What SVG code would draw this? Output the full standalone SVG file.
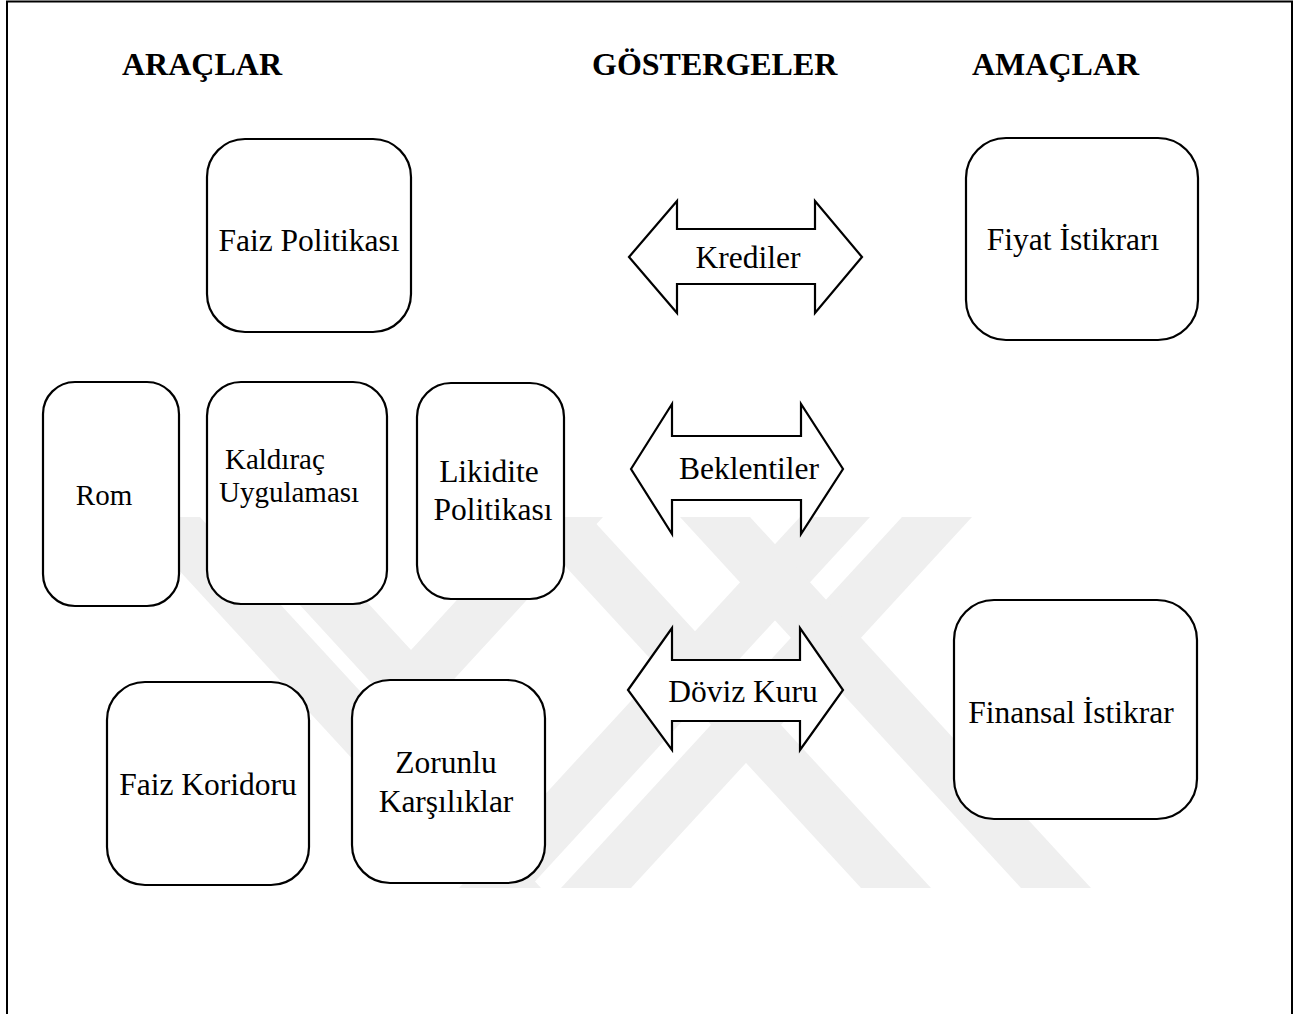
<svg xmlns="http://www.w3.org/2000/svg" width="1304" height="1014" viewBox="0 0 1304 1014">
  <style>
    .node { fill: #ffffff; stroke: #000000; stroke-width: 2.2; }
    .arrow { fill: #ffffff; stroke: #000000; stroke-width: 2.2; stroke-linejoin: miter; }
    .t { font-family: "Liberation Serif", "Times New Roman", serif; font-size: 31.5px; fill: #000000; }
    .s { font-size: 29px; }
    .c { text-anchor: middle; }
    .h { font-family: "Liberation Serif", "Times New Roman", serif; font-size: 32px; font-weight: bold; fill: #000000; }
    .wm { fill: #efefef; }
  </style>
  <rect x="0" y="0" width="1304" height="1014" fill="#ffffff"/>
  <g id="frame">
    <path d="M7,1014 V1.5 H1292 V1014" fill="none" stroke="#000000" stroke-width="2"/>
  </g>
  <g id="watermark">
    <polygon class="wm" points="219,517 289,517 411,650 533,517 603,517 411,726"/>
    <polygon class="wm" points="520,517 590,517 931,888 861,888"/>
    <polygon class="wm" points="902,517 972,517 631,888 561,888"/>
    <polygon class="wm" points="130,517 200,517 541,888 471,888"/>
    <polygon class="wm" points="800,517 870,517 529,888 459,888"/>
    <polygon class="wm" points="680,517 750,517 1091,888 1021,888"/>
  </g>
  <g id="headers">
    <text class="h" x="122" y="75">ARAÇLAR</text>
    <text class="h" x="592" y="75">GÖSTERGELER</text>
    <text class="h" x="972" y="75">AMAÇLAR</text>
  </g>
  <g id="connectors">
    <g id="arrow-krediler">
      <polygon class="arrow" points="629,257 677,201 677,229 815,229 815,201 862,257 815,313 815,284 677,284 677,313"/>
      <text class="t c" x="748" y="268">Krediler</text>
    </g>
    <g id="arrow-beklentiler">
      <polygon class="arrow" points="631,469 672,404 672,436 801,436 801,404 843,469 801,534 801,500 672,500 672,534"/>
      <text class="t c" x="749" y="479">Beklentiler</text>
    </g>
    <g id="arrow-doviz">
      <polygon class="arrow" points="628,690 672,628 672,660 800,660 800,628 843,690 800,750 800,721 672,721 672,750"/>
      <text class="t c" x="743" y="702">Döviz Kuru</text>
    </g>
  </g>
  <g id="node-faiz-politikasi">
    <rect class="node" x="207" y="139" width="204" height="193" rx="38"/>
    <text class="t c" x="309" y="251">Faiz Politikası</text>
  </g>
  <g id="node-fiyat-istikrari">
    <rect class="node" x="966" y="138" width="232" height="202" rx="40"/>
    <text class="t c" x="1073" y="250">Fiyat İstikrarı</text>
  </g>
  <g id="node-rom">
    <rect class="node" x="43" y="382" width="136" height="224" rx="32"/>
    <text class="t s c" x="104" y="505">Rom</text>
  </g>
  <g id="node-kaldirac">
    <rect class="node" x="207" y="382" width="180" height="222" rx="34"/>
    <text class="t s" x="225" y="469">Kaldıraç</text>
    <text class="t s" x="219" y="502">Uygulaması</text>
  </g>
  <g id="node-likidite">
    <rect class="node" x="417" y="383" width="147" height="216" rx="34"/>
    <text class="t c" x="489" y="482">Likidite</text>
    <text class="t c" x="493" y="520">Politikası</text>
  </g>
  <g id="node-faiz-koridoru">
    <rect class="node" x="107" y="682" width="202" height="203" rx="38"/>
    <text class="t c" x="208" y="795">Faiz Koridoru</text>
  </g>
  <g id="node-zorunlu">
    <rect class="node" x="352" y="680" width="193" height="203" rx="38"/>
    <text class="t c" x="446" y="773">Zorunlu</text>
    <text class="t c" x="446" y="812">Karşılıklar</text>
  </g>
  <g id="node-finansal-istikrar">
    <rect class="node" x="954" y="600" width="243" height="219" rx="40"/>
    <text class="t c" x="1071" y="723">Finansal İstikrar</text>
  </g>
</svg>
